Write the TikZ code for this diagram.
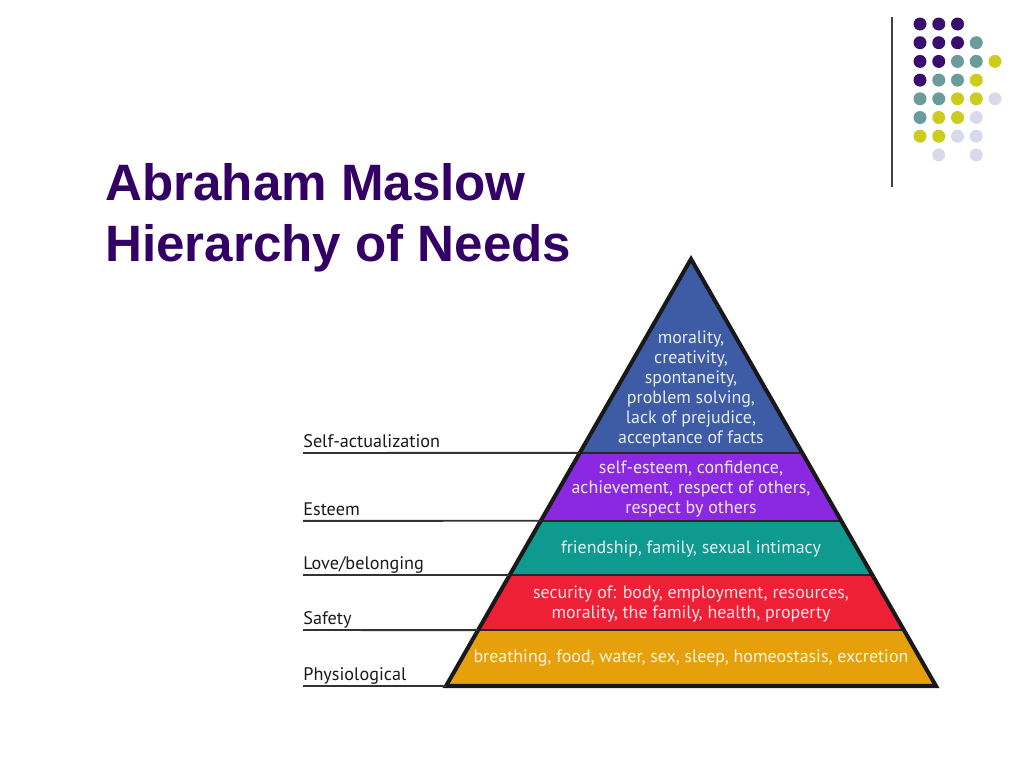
\documentclass[tikz,border=0pt]{standalone}
\usepackage{fontspec}
\setmainfont{PT Sans}
\newfontfamily\titlefont{Liberation Sans}
\usetikzlibrary{calc}

\definecolor{titlepurple}{HTML}{330066}
\definecolor{dotP}{HTML}{3A0E6E}
\definecolor{dotT}{HTML}{6A9C9C}
\definecolor{dotY}{HTML}{CCCC1E}
\definecolor{dotL}{HTML}{D9D9EC}
\definecolor{selfblue}{HTML}{3E5CA6}
\definecolor{esteempurple}{HTML}{8A28E2}
\definecolor{loveteal}{HTML}{0E9A8F}
\definecolor{safetyred}{HTML}{EE2035}
\definecolor{physorange}{HTML}{E6A00C}

\begin{document}
\begin{tikzpicture}[
    x=0.02cm, y=-0.02cm,
    titleline/.style={anchor=base west, inner sep=0pt, text=titlepurple, font=\titlefont\bfseries\fontsize{29.1}{34}\selectfont},
    layertext/.style={align=center, inner sep=0pt, text=white, text opacity=0.88, font=\fontsize{10.2}{11.3}\selectfont},
    levellabel/.style={anchor=base west, inner sep=0pt, text=black!90, font=\fontsize{10.35}{12}\selectfont},
    levelline/.style={draw=black!80, line width=1.1pt},
    sepline/.style={draw=black!85, line width=1.4pt},
    pyramidedge/.style={draw=black!90, line width=2.3pt, line join=miter},
    dot/.style={radius=6.5}
]
\useasboundingbox (0,0) rectangle (1024,768);

% decoration top right
\draw[black!75, line width=0.8pt] (892,17) -- (892,187);
\foreach \cols [count=\j from 0] in {{dotP,dotP,dotP},{dotP,dotP,dotP,dotT},{dotP,dotP,dotT,dotT,dotY},{dotP,dotT,dotT,dotY},{dotT,dotT,dotY,dotY,dotL},{dotT,dotY,dotY,dotL},{dotY,dotY,dotL,dotL}}
    \foreach \c [count=\i from 0] in \cols
        \fill[\c] ({920+18.75*\i},{24+18.7*\j}) circle[dot];
\fill[dotL] (938.75,154.9) circle[dot];
\fill[dotL] (976.25,154.9) circle[dot];

% title
\node[titleline] (title-a) at (105,200) {Abraham Maslow};
\node[titleline] (title-b) at (105,261) {Hierarchy of Needs};

% pyramid corners and level boundaries
\coordinate (apex) at (691,259);
\coordinate (bl) at (446,686);
\coordinate (br) at (936,686);
\foreach \name/\t in {se/0.454, el/0.613, ls/0.740, sp/0.869} {
    \coordinate (\name-l) at ($(apex)!\t!(bl)$);
    \coordinate (\name-r) at ($(apex)!\t!(br)$);
}

\fill[selfblue] (apex) -- (se-r) -- (se-l) -- cycle;
\fill[esteempurple] (se-l) -- (se-r) -- (el-r) -- (el-l) -- cycle;
\fill[loveteal] (el-l) -- (el-r) -- (ls-r) -- (ls-l) -- cycle;
\fill[safetyred] (ls-l) -- (ls-r) -- (sp-r) -- (sp-l) -- cycle;
\fill[physorange] (sp-l) -- (sp-r) -- (br) -- (bl) -- cycle;
\foreach \name in {se, el, ls, sp}
    \draw[sepline] (\name-l) -- (\name-r);
\draw[pyramidedge] (apex) -- (br) -- (bl) -- cycle;

% texts inside the levels
\node[layertext] (self-txt) at (691,389) {morality,\\creativity,\\spontaneity,\\problem solving,\\lack of prejudice,\\acceptance of facts};
\node[layertext] (esteem-txt) at (691,489) {self-esteem, confidence,\\achievement, respect of others,\\respect by others};
\node[layertext] (love-txt) at (691,549) {friendship, family, sexual intimacy};
\node[layertext] (safety-txt) at (691,604) {security of: body, employment, resources,\\morality, the family, health, property};
\node[layertext] (phys-txt) at (691,658) {breathing, food, water, sex, sleep, homeostasis, excretion};

% level names on the left
\foreach \name/\y/\target/\label in {self/453/se-l/Self-actualization, esteem/520.8/el-l/Esteem, love/575/ls-l/Love\slash belonging, safety/630/sp-l/Safety, phys/686/bl/Physiological} {
    \coordinate (\name-tick) at (303,\y);
    \node[levellabel] (\name-lbl) at ($(\name-tick)+(0,-5.5)$) {\label};
    \draw[levelline] (\name-tick) -- (\target);
}
\end{tikzpicture}
\end{document}
